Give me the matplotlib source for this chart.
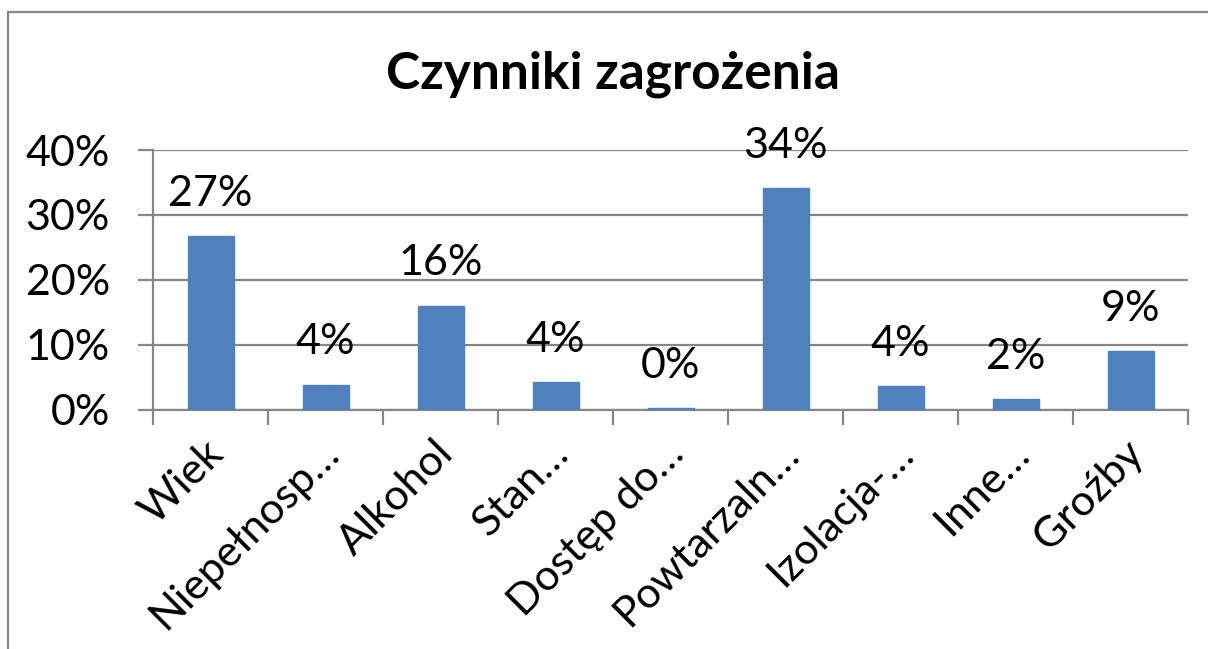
import matplotlib
matplotlib.use("Agg")
import matplotlib.pyplot as plt
from matplotlib.patches import Rectangle
from matplotlib.ticker import FixedLocator, PercentFormatter
from matplotlib.transforms import ScaledTranslation

plt.rcParams['font.family'] = ['Lato', 'DejaVu Sans']

title = "Czynniki zagrożenia"
categories = ['Wiek', 'Niepełnosp…', 'Alkohol', 'Stan…', 'Dostęp do…',
              'Powtarzaln…', 'Izolacja-…', 'Inne…', 'Groźby']
values = [26.7, 3.8, 16.0, 4.2, 0.2, 34.1, 3.6, 1.6, 9.0]
yticks = [0, 10, 20, 30, 40]

W, H = 1208, 649
fig = plt.figure(figsize=(W / 100, H / 100), dpi=100)
fig.patch.set_facecolor('white')

# outer chart border (cropped at right/bottom)
fig.add_artist(Rectangle((8 / W, -0.1), 1.2, 1.1 - 12 / H,
                         transform=fig.transFigure, fill=False,
                         edgecolor='#868686', linewidth=1.6))

ax = fig.add_axes([153 / W, 1 - 409.5 / H, (1188 - 153) / W, (409.5 - 150) / H])
grey = '#868686'
x = list(range(len(categories)))
ax.bar(x, values, width=0.4, color='#4F81BD', edgecolor='#4F81BD', zorder=3)

ax.set_xlim(-0.5, len(categories) - 0.5)
ax.set_ylim(0, 40)
ax.yaxis.set_major_locator(FixedLocator(yticks))
ax.yaxis.set_major_formatter(PercentFormatter(decimals=0))
ax.grid(axis='y', color=grey, linewidth=1.6, zorder=0)
for s in ['top', 'right']:
    ax.spines[s].set_visible(False)
for s in ['left', 'bottom']:
    ax.spines[s].set_color(grey)
    ax.spines[s].set_linewidth(1.6)

ax.tick_params(axis='y', direction='out', length=11, width=1.6, color=grey,
               labelsize=31, pad=20)
# x ticks at category boundaries, labels at centers
ax.set_xticks([i - 0.5 for i in range(len(categories) + 1)])
ax.set_xticklabels([])
ax.set_xticks(x, minor=True)
ax.set_xticklabels(categories, minor=True, rotation=45, ha='right',
                   va='center', rotation_mode='anchor', fontsize=31)
ax.tick_params(axis='x', which='major', direction='out', length=11,
               width=1.6, color=grey)
ax.tick_params(axis='x', which='minor', length=0, pad=30)
offset = ScaledTranslation(7 / 100, 4 / 100, fig.dpi_scale_trans)
for lbl in ax.get_xticklabels(minor=True):
    lbl.set_transform(lbl.get_transform() + offset)

for xi, v in zip(x, values):
    ax.annotate(f"{v:.0f}%", (xi, v), xytext=(0, 17), textcoords='offset points',
                ha='center', va='bottom', fontsize=31, zorder=4)

fig.text(613 / W, 1 - 88 / H, title, ha='center', va='baseline',
         fontsize=37, fontweight='bold')

fig.savefig('out.png', dpi=100, facecolor='white')
